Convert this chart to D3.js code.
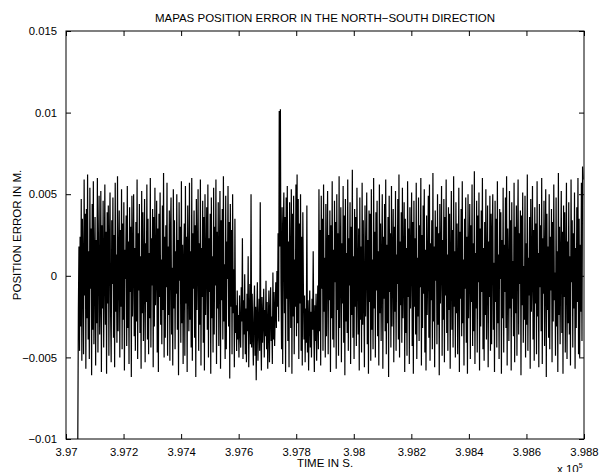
<!DOCTYPE html>
<html lang="en">

<head>
  <meta charset="utf-8">
  <title>MAPAS position error N-S</title>
  <script src="https://d3js.org/d3.v7.min.js"></script>
  <style type="text/css">
    body {
      margin: 0;
      background: white;
    }

    svg {
      display: block;
    }

    .axis path.domain {
      display: none;
    }

    .axis line {
      stroke: black;
    }

    .axis text {
      font-family: "Liberation Sans", Arial, sans-serif;
      font-size: 11.3px;
      fill: black;
    }

    .label {
      font-family: "Liberation Sans", Arial, sans-serif;
      font-size: 11.5px;
      fill: black;
      text-anchor: middle;
    }
  </style>
</head>

<body>
  <script>

    //Config settings
    const width = 599, height = 472;
    const margin = { top: 31, bottom: 33, left: 66, right: 15 };

    //Data: sample times (s) = startTime + i * sampleStep, errors in mm
    const startTime = 397041;
    const sampleStep = 2;

    // first stretch, normal noise
    const errSeg1 = [
      -10.0, -2.1, 1.8, -4.6, 2.4, -3.1, 4.7, -5.2, 3.5, 0.6, -4.8, 5.9, -1.2, 3.8, -5.7, 4.1, -2.6, 6.2, -3.9, 1.5,
      -5.1, 5.4, -0.8, 2.9, -6.1, 4.4, -3.3, 5.8, -4.2, 0.9, 3.6, -5.5, 2.2, -2.9, 6.0, -4.7, 1.1, 4.9, -3.6, -1.4,
      5.2, -5.9, 3.1, -2.0, 4.6, -4.4, 0.3, 5.6, -3.0, 2.7, -6.0, 3.9, -1.7, 4.3, -4.9, 1.9, 5.1, -2.4, -5.3, 3.4,
      -0.5, 4.8, -3.8, 2.5, -5.6, 5.7, -2.2, 1.3, -4.1, 6.1, -3.4, 0.7, 4.0, -5.0, 2.8, -1.9, 5.3, -4.5, 3.2, -2.7,
      4.5, -5.8, 1.6, -0.2, 3.7, -4.3, 5.5, -3.2, 2.1, -5.4, 4.2, -1.0, 3.0, -6.2, 4.9, -2.5, 0.8, 5.0, -3.7, 1.7,
      -4.6, 3.3, -2.8, 5.9, -5.1, 2.6, -0.9, 4.4, -3.5, 1.2, -5.7, 5.2, -2.3, 3.9, -4.0, 0.4, 4.7, -5.3, 2.0, -1.6,
      5.6, -3.9, 3.5, -4.8, 1.4, -2.6, 6.0, -4.4, 2.3, -0.6, 4.1, -5.6, 3.6, -3.1, 5.4, -1.8, 0.2, 4.6, -4.7, 2.9,
      -5.9, 3.8, -1.3, 5.1, -3.0, 1.0, -4.2, 4.3, -2.1, 6.3, -5.0, 2.4, -3.8, 3.1, -0.7, 5.7, -4.9, 1.8, -2.4, 4.0,
      -5.2, 2.7, 4.8, -3.6, 0.5, -5.5, 5.3, -2.0, 3.4, -4.5, 1.5, -1.1, 5.0, -3.3, 2.2, -6.1, 4.5, -0.3, 3.0, -4.1,
      5.8, -2.9, 1.9, -5.4, 0.9,
      3.2, -4.9, 5.5, -1.7, 2.4, -5.9, 4.3, 0.2, -3.4, 5.7, -2.7, 1.5, -4.4, 6.0, -5.2, 2.6, -0.8, 4.0, -3.8, 3.1,
      -6.2, 4.7, -2.1, 0.9, 5.3, -4.6, 2.0, -3.0, 5.9, -5.5, 1.7, -1.3, 4.6, -4.1, 3.6, -5.8, 5.0, -2.4, 0.5, 4.2,
      -3.3, 5.6, -5.0, 2.3, -1.0, 3.8, -6.0, 4.8, -2.6, 1.2, -4.7, 5.4, -3.6, 3.0, -0.6, 5.9, -5.4, 2.7, -2.0, 4.5,
      -4.3, 1.0, 5.2, -5.7, 3.4, -1.5, 4.1, -3.9, 6.1, -2.8, 0.7, -5.1, 4.9, -4.5, 2.1, -0.2, 5.5, -3.1, 3.3, -6.3,
      4.4, -1.9, 2.8, -4.8, 5.0, -2.3, 0.4, -5.6, 3.5, -3.5
    ];
    // quiet stretch below zero before the spike
    const errLow1 = [
      -1.8, -4.6, -0.9, -3.9, -2.4, -5.0, -1.2, -3.3, -4.4, -0.7, -2.8, 2.3, -5.1, -1.5, -3.6, 0.1, -4.8, -2.0, -5.3, -1.1,
      -3.4, 1.2, -5.6, -2.7, -0.5, -4.2, 5.0, -4.4, -1.1, -3.6, -5.5, -2.2, -0.6, -4.9, -1.9, -6.4, -2.5, -0.4, -5.2, -3.0,
      -1.4, -4.6, 4.5, -3.5, -5.8, -1.3, -4.1, -2.6, -0.8, -5.0, -2.1, -3.7, -0.3, -4.5, -1.6, -5.7, -3.0, -0.9, -5.3, -2.3,
      -0.7, -4.0, -2.5, -5.4, 0.2, -3.9, -1.0, -4.3, -2.2, -0.4, -3.2, 0.3, -1.9, 2.6, -2.8
    ];
    // the 0.01 m spike
    const errSpike = [10.1, 1.8, 10.2, -0.5];
    const errSeg2 = [
      -4.5, 4.2, -5.4, 2.7, 5.1, -2.3, 3.6, -5.9, 4.8, -1.4, 5.5, -4.0, 2.1, -5.6, 4.5, 0.6, -3.2, 5.3, -6.0, 3.8,
      -2.5, 4.9, -4.8, 1.0, -1.9, 5.6, -3.7, 6.2, -2.9, 4.7, -5.1, 3.2, -1.7, 5.0, -4.6, 2.4, -5.5, 3.9, -0.8, -3.9
    ];
    // second quiet stretch
    const errLow2 = [
      -1.2, -5.3, -2.0, -4.1, 4.3, -4.7, -1.5, -5.8, -2.6, -0.9, -4.4, -2.2, -5.0, -1.4, -3.3, 1.5,
      -3.1, -5.9, -1.8, -4.0, -1.1, -5.2, -2.4, -0.6, -4.5
    ];
    const errSeg3 = [
      5.3, -3.4, 2.8, -5.5, 4.9, -0.8, 3.5, -4.6, 5.6, -2.2, 1.1, -5.0, 4.4, -3.7, 0.6, 5.2, -4.8, 2.5, -1.5, 4.0,
      -5.9, 3.1, -2.6, 5.8, -3.9, 1.6, -4.4, 4.6, -0.4, 3.3, -5.7, 5.0, -2.1, 2.6, -4.9, 6.1, -3.2, 0.9, 4.2, -5.3,
      2.0, -1.7, 5.5, -4.1, 3.7, -6.1, 4.7, -2.8, 1.4, -3.5, 5.9, -4.6, 2.3, -0.6, 4.5, -5.4, 3.0, -2.4, 6.5, -3.8,
      1.2, -5.1, 4.1, -1.9, 3.6, -4.3, 5.4, -0.1, -3.6, 2.9, -5.8, 4.8, -2.7, 1.8, -4.7, 5.7, -3.0, 3.4, -1.2, -5.6,
      4.3, -2.5, 0.7, 5.1, -4.2, 2.2, -6.0, 4.0, -1.6, 3.8, -5.2, 5.3, -3.3, 1.0, -4.5, 6.0, -2.0, 2.7, -5.0, 3.9,
      -0.9, 4.6, -3.7, 1.5, -5.5, 5.6, -2.3, 3.2, -4.0, 0.5, 5.0, -5.7, 2.4, -1.4, 4.4, -3.4, 5.9, -4.8, 1.9, -2.9,
      3.6, -6.2, 4.9, -1.0, 2.6, -4.4, 5.5, -3.1, 0.8, 4.1, -5.3, 3.0, -2.2, 5.2, -4.6, 1.3, -0.5, 4.7, -3.9, 6.2,
      -5.0, 2.1, -1.8, 3.9, -4.1, 5.4, -2.6, 0.3, 4.5, -5.9, 3.5, -3.5, 1.7, -4.9, 5.8, -1.3, 2.9, -5.4, 4.2, -2.0,
      0.9, 5.1, -4.3, 3.3, -6.0, 4.6, -1.9, 2.3, -3.6, 5.7, -5.1, 1.1, -2.5, 4.8, -4.0, 3.1, -0.7, 6.0, -5.5, 2.5,
      -3.2, 4.3, -1.1, 5.3, -4.7, 1.6, -5.8, 3.7, -2.4, 0.4, 4.9, -3.8, 5.6, -5.2, 2.0, -1.5, 3.4, -4.5, 6.3, -2.8,
      1.8, -5.6, 4.0, -0.3, 3.0, -4.2, 5.0, -3.0, 2.6, -6.1, 4.4, -1.7, 0.8, 5.5, -4.9, 2.2, -2.7, 4.7, -5.3, 3.6,
      -1.2, 5.9, -3.5, 1.3, -4.6, 4.2, -2.1, 3.8, -5.7, 0.6, 5.2, -3.3, 2.8, -4.4, 6.1, -1.9, 1.5, -5.0, 4.5, -2.3,
      3.2, -4.8, 0.1, 5.4, -5.9, 2.7, -1.4, 4.1, -3.7, 5.8, -2.9, 1.0, -5.5, 3.5, -0.8, 4.8, -4.1, 2.4, -6.0, 5.0,
      -2.6, 0.7, 4.4, -5.1, 3.1, -1.6, 5.6, -4.3, 2.0, -3.4, 6.4, -5.4, 1.4, -2.0, 4.6, -4.7, 3.7, -0.4, 5.1, -5.8,
      2.9, -3.1, 4.0, -1.0, 6.0, -4.5, 1.7, -5.2, 3.3, -2.4, 5.3, -3.9, 0.5, 4.3, -5.6, 2.1, -1.3, 4.9, -4.6, 3.8,
      -4.2, 2.5, 5.0, -3.3, 0.8, -5.9, 4.6, -1.6, 3.5, -4.4, 5.8, -2.9, 1.3, -5.1, 4.1, -0.2, 3.9, -6.0, 2.2, -2.6,
      5.4, -4.7, 1.9, -1.0, 4.8, -3.2, 6.1, -5.5, 2.9, 0.3, -4.0, 5.2, -2.0, 3.4, -5.8, 4.5, -1.4, 0.9, -3.7, 5.7,
      -5.3, 3.0, -2.3, 4.3, -4.9, 1.6, 5.9, -3.6, 2.6, -0.5, 4.0, -6.1, 3.7, -1.8, 5.1, -4.1, 0.6, -2.7, 4.9, -5.0,
      2.0, -3.0, 6.2, -4.6, 1.1, -1.2, 3.6, -5.7, 4.7, -2.2, 0.0, 5.5, -3.9, 2.8, -5.2, 4.2, -1.7, 3.2, -4.8, 5.8,
      -2.5, 1.4, -5.6, 4.4, -0.7, 3.1, -3.4, 6.0, -5.4, 2.3, -1.1, 4.6, -4.3, 0.7, 5.3, -6.2, 3.8, -2.1, 1.8, -3.8,
      5.0, -4.5, 2.4, -0.9, 4.1, -5.3, 3.3, -2.8, 5.6, -1.5, 0.2, -4.9, 4.8, -3.1, 1.5, -5.9, 6.3, -2.4, 3.0, -4.2,
      1.0, 5.2, -3.5, 2.7, -6.0, 4.3, -1.3, 3.9, -4.7, 0.5, 5.7, -5.1, 2.1, -2.9, 4.5, -3.6, 1.2, -5.5, 5.9, -0.4,
      3.4, -4.4, 2.6, -2.0, 5.1, -5.7, 1.7, -3.2, 4.2, -1.6, 6.0, -4.8, 3.5,
      -5.0, 1.9, -2.2, 5.7, -4.0, 6.7, 5.9
    ];

    //tick values and labels
    const xTicks = [3.97, 3.972, 3.974, 3.976, 3.978, 3.98, 3.982, 3.984, 3.986, 3.988];
    const xTickLabels = ["3.97", "3.972", "3.974", "3.976", "3.978", "3.98", "3.982", "3.984", "3.986", "3.988"];
    const yTicks = [-0.01, -0.005, 0, 0.005, 0.01, 0.015];
    const yTickLabels = ["\u22120.01", "\u22120.005", "0", "0.005", "0.01", "0.015"];

    //build the series
    const errMm = [].concat(errSeg1, errLow1, errSpike, errSeg2, errLow2, errSeg3);
    const series = errMm.map((v, i) => ({
      t: (startTime + i * sampleStep) / 1e5,
      v: v / 1000
    }));

    let innerWidth = width - margin.left - margin.right;
    let innerHeight = height - margin.top - margin.bottom;

    let svg = d3.select("body").append("svg")
      .attr("width", width).attr("height", height);
    svg.append("rect")
      .attr("width", "100%").attr("height", "100%")
      .attr("fill", "white");

    let mainGroup = svg.append("g")
      .attr("transform", `translate(${margin.left},${margin.top})`);

    let xScale = d3.scaleLinear()
      .domain([3.97, 3.988])
      .range([0, innerWidth]);
    let yScale = d3.scaleLinear()
      .domain([-0.01, 0.015])
      .range([innerHeight, 0]);

    mainGroup.append("clipPath").attr("id", "plotClip")
      .append("rect")
      .attr("x", 0).attr("y", -1)
      .attr("width", innerWidth).attr("height", innerHeight + 2);

    //the signal
    let line = d3.line()
      .x(d => xScale(d.t))
      .y(d => yScale(d.v));
    mainGroup.append("path")
      .datum(series)
      .attr("clip-path", "url(#plotClip)")
      .attr("fill", "none")
      .attr("stroke", "black")
      .attr("stroke-width", 1.2)
      .attr("stroke-linejoin", "miter")
      .attr("d", line);

    //axes, ticks pointing inward (matlab style)
    let xAxis = d3.axisBottom(xScale)
      .tickValues(xTicks)
      .tickFormat((d, i) => xTickLabels[i])
      .tickSizeInner(-5).tickSizeOuter(0).tickPadding(9);
    let xAxisTop = d3.axisTop(xScale)
      .tickValues(xTicks).tickFormat("")
      .tickSizeInner(-5).tickSizeOuter(0);
    let yAxis = d3.axisLeft(yScale)
      .tickValues(yTicks)
      .tickFormat((d, i) => yTickLabels[i])
      .tickSizeInner(-5).tickSizeOuter(0).tickPadding(9);
    let yAxisRight = d3.axisRight(yScale)
      .tickValues(yTicks).tickFormat("")
      .tickSizeInner(-5).tickSizeOuter(0);

    mainGroup.append("g").attr("class", "axis")
      .attr("transform", `translate(0,${innerHeight})`).call(xAxis);
    mainGroup.append("g").attr("class", "axis").call(xAxisTop);
    mainGroup.append("g").attr("class", "axis").call(yAxis);
    mainGroup.append("g").attr("class", "axis")
      .attr("transform", `translate(${innerWidth},0)`).call(yAxisRight);

    mainGroup.append("rect")
      .attr("x", 0).attr("y", 0)
      .attr("width", innerWidth).attr("height", innerHeight)
      .attr("fill", "none").attr("stroke", "black").attr("stroke-width", 1);

    //titles
    mainGroup.append("text").attr("class", "label")
      .attr("x", innerWidth / 2).attr("y", -9)
      .text("MAPAS POSITION ERROR IN THE NORTH\u2212SOUTH DIRECTION");
    mainGroup.append("text").attr("class", "label")
      .attr("x", innerWidth / 2).attr("y", innerHeight + 28)
      .text("TIME IN S.");
    mainGroup.append("text").attr("class", "label")
      .attr("transform", `translate(${21 - margin.left},${innerHeight / 2}) rotate(-90)`)
      .text("POSITION ERROR IN M.");

    let expo = mainGroup.append("text").attr("class", "label")
      .style("text-anchor", "start")
      .attr("x", innerWidth - 27).attr("y", innerHeight + 34);
    expo.append("tspan").text("x 10");
    expo.append("tspan").attr("dy", -5).style("font-size", "7px").text("5");

  </script>
</body>

</html>
